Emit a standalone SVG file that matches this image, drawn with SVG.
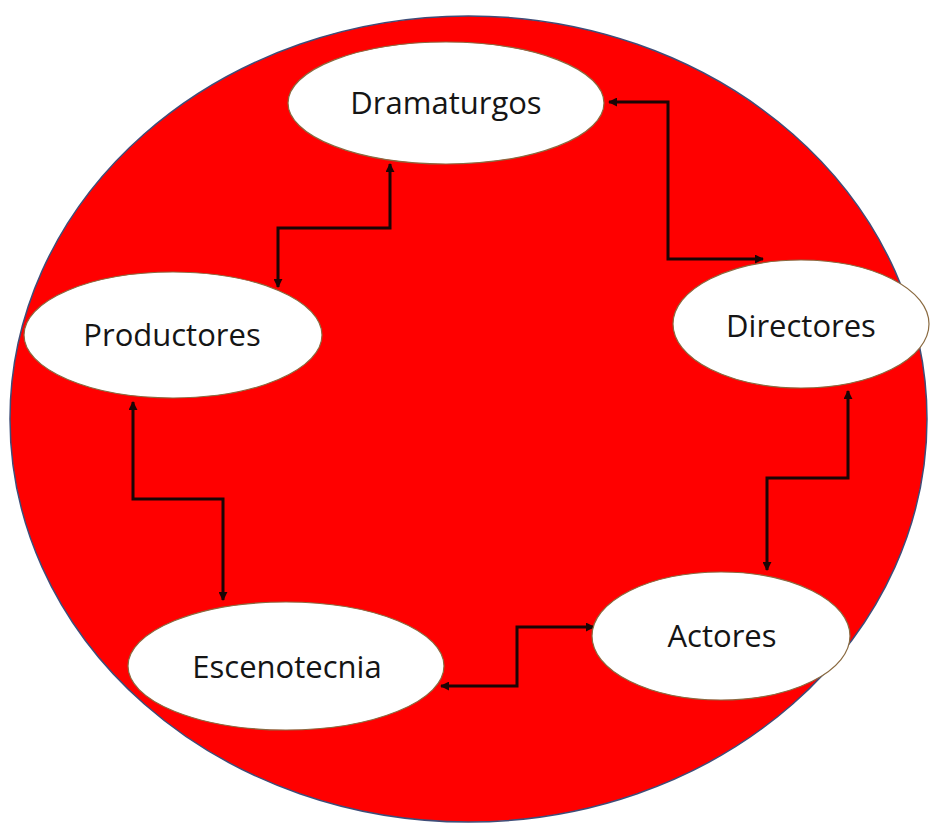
<svg xmlns="http://www.w3.org/2000/svg" width="934" height="825" viewBox="0 0 934 825">
  <style>
    .node ellipse { fill: #ffffff; stroke: #8a6a40; stroke-width: 1.2; }
    .node text { font-family: "Open Sans", "Liberation Sans", sans-serif; font-size: 31px; fill: #151515; text-anchor: middle; }
    .link { fill: none; stroke: #1a0505; stroke-width: 3; marker-start: url(#tip); marker-end: url(#tip); }
  </style>
  <defs>
    <marker id="tip" viewBox="0 0 10 10" refX="9" refY="5" markerWidth="3" markerHeight="3" orient="auto-start-reverse" markerUnits="strokeWidth">
      <path d="M0,0 L10,5 L0,10 z" fill="#1a0505"/>
    </marker>
  </defs>

  <rect width="934" height="825" fill="#ffffff"/>

  <!-- backdrop disc -->
  <ellipse cx="468.5" cy="419" rx="458.5" ry="403" fill="#ff0000" stroke="#3f4d78" stroke-width="1.5"/>

  <g id="connectors">
    <path class="link" d="M278,287 V228 H390 V164"/>
    <path class="link" d="M609,102 H668 V259 H763"/>
    <path class="link" d="M848,391 V478 H767 V570"/>
    <path class="link" d="M133,402 V499 H223 V600"/>
    <path class="link" d="M441,686 H517 V627 H594"/>
  </g>

  <g id="dramaturgos" class="node">
    <ellipse cx="446" cy="103" rx="158" ry="61"/>
    <text x="446" y="114">Dramaturgos</text>
  </g>
  <g id="productores" class="node">
    <ellipse cx="173" cy="335" rx="149" ry="63"/>
    <text x="172" y="346">Productores</text>
  </g>
  <g id="directores" class="node">
    <ellipse cx="801" cy="324" rx="128" ry="64"/>
    <text x="801" y="337">Directores</text>
  </g>
  <g id="escenotecnia" class="node">
    <ellipse cx="286" cy="666" rx="158" ry="64"/>
    <text x="287" y="678">Escenotecnia</text>
  </g>
  <g id="actores" class="node">
    <ellipse cx="721" cy="636" rx="129" ry="64"/>
    <text x="722" y="647">Actores</text>
  </g>
</svg>
